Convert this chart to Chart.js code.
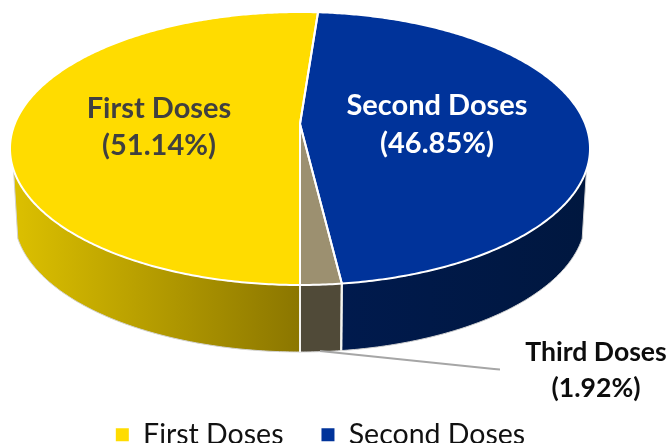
<!DOCTYPE html>
<html>
<head>
<meta charset="utf-8">
<style>
    html, body { margin: 0; padding: 0; background: #fff; overflow: hidden; }
    #wrap { width: 671px; height: 443px; }
</style>
<script src="https://cdn.jsdelivr.net/npm/chart.js@4/dist/chart.umd.min.js"></script>
</head>
<body>
<div id="wrap"><canvas id="dosesChart"></canvas></div>
<script>
const doseLabels = ['First Doses', 'Second Doses', 'Third Doses'];
const dosePercents = [51.14, 46.85, 1.92];
const topColors = ['#ffdc00', '#00339a', '#9c9070'];
const legendCount = 2;

// perspective of the tilted disc, fitted to the outline of the picture
const view = { cx: 300, apexY: 124, c: -0.1795, a: 132.1, b: 285.3, baseY: 193.4, shrink: 0.985 };
const wallFrom = 19 * Math.PI / 180;
const wallTo = 161 * Math.PI / 180;

const project = (angle, onBase) => {
    const d = 1 + view.c * Math.sin(angle);
    const s = onBase ? view.shrink : 1;
    return {
        x: view.cx + s * view.b * Math.cos(angle) / d,
        y: (onBase ? view.baseY : view.apexY) + s * view.a * Math.sin(angle) / d,
    };
};

const rimPath = (ctx, from, to, onBase, connect) => {
    const steps = Math.max(2, Math.ceil(Math.abs(to - from) / 0.01));
    for (let i = 0; i <= steps; i++) {
        const p = project(from + (to - from) * i / steps, onBase);
        if (i === 0 && !connect) ctx.moveTo(p.x, p.y);
        else ctx.lineTo(p.x, p.y);
    }
};

const wallFills = (ctx) => {
    const gold = ctx.createLinearGradient(14, 0, 300, 0);
    gold.addColorStop(0, '#dcc000');
    gold.addColorStop(1, '#8b7600');
    const navy = ctx.createLinearGradient(342, 0, 590, 0);
    navy.addColorStop(0, '#001a4d');
    navy.addColorStop(1, '#00173f');
    return [gold, navy, '#504a38'];
};

const drawWalls = (ctx, arcs) => {
    const fills = wallFills(ctx);
    arcs.forEach((arc, i) => {
        const from = Math.max(arc.startAngle, wallFrom);
        const to = Math.min(arc.endAngle, wallTo);
        let ranges = [[from, to]];
        // the slices run past 360deg, so look at the wrapped range as well
        if (arc.endAngle > Math.PI * 2) {
            ranges.push([Math.max(arc.startAngle - Math.PI * 2, wallFrom), Math.min(arc.endAngle - Math.PI * 2, wallTo)]);
        }
        ranges.forEach(([a, b]) => {
            if (b <= a) return;
            ctx.beginPath();
            rimPath(ctx, a, b, false, false);
            rimPath(ctx, b, a, true, true);
            ctx.closePath();
            ctx.fillStyle = fills[i];
            ctx.fill();
        });
    });

    // thin edge round the bottom of the wall
    ctx.beginPath();
    rimPath(ctx, wallFrom, wallTo, false, false);
    ctx.moveTo(project(wallFrom, false).x, project(wallFrom, false).y);
    rimPath(ctx, wallFrom, wallTo, true, true);
    rimPath(ctx, wallTo, wallTo, false, true);
    ctx.strokeStyle = '#d2d2d2';
    ctx.lineWidth = 1;
    ctx.stroke();

    // white seams where the slices meet on the wall
    arcs.forEach((arc) => {
        [arc.startAngle, arc.endAngle].forEach((angle) => {
            const a = ((angle % (Math.PI * 2)) + Math.PI * 2) % (Math.PI * 2);
            if (a < wallFrom || a > wallTo) return;
            const top = project(a, false);
            const base = project(a, true);
            ctx.beginPath();
            ctx.moveTo(top.x, top.y);
            ctx.lineTo(base.x, base.y);
            ctx.strokeStyle = '#f4f4f0';
            ctx.lineWidth = 2;
            ctx.stroke();
        });
    });
};

const drawTops = (ctx, arcs) => {
    arcs.forEach((arc, i) => {
        ctx.beginPath();
        ctx.moveTo(view.cx, view.apexY);
        rimPath(ctx, arc.startAngle, arc.endAngle, false, true);
        ctx.closePath();
        ctx.fillStyle = topColors[i];
        ctx.fill();
    });
    arcs.forEach((arc) => {
        ctx.beginPath();
        ctx.moveTo(view.cx, view.apexY);
        rimPath(ctx, arc.startAngle, arc.endAngle, false, true);
        ctx.closePath();
        ctx.strokeStyle = '#fff';
        ctx.lineWidth = 2;
        ctx.lineJoin = 'round';
        ctx.stroke();
    });
};

const drawLabels = (ctx) => {
    const spots = [
        { x: 159, y: 109, gap: 37, size: 29, color: '#404040' },
        { x: 437, y: 106, gap: 38, size: 29, color: '#ffffff' },
        { x: 596, y: 352, gap: 36, size: 26.6, color: '#0d0d0d' },
    ];
    ctx.textAlign = 'center';
    ctx.textBaseline = 'middle';
    doseLabels.forEach((label, i) => {
        const s = spots[i];
        ctx.font = `bold ${s.size}px Lato, "Open Sans", sans-serif`;
        ctx.fillStyle = s.color;
        ctx.fillText(label, s.x, s.y);
        ctx.fillText(`(${dosePercents[i].toFixed(2)}%)`, s.x, s.y + s.gap);
    });
};

const pie3d = {
    id: 'pie3d',
    beforeDatasetsDraw(chart) {
        const ctx = chart.ctx;
        const arcs = chart.getDatasetMeta(0).data.map((el) => el.getProps(['startAngle', 'endAngle'], true));
        ctx.save();
        drawWalls(ctx, arcs);
        drawTops(ctx, arcs);

        // leader line of the small slice
        ctx.beginPath();
        ctx.moveTo(320, 351);
        ctx.lineTo(494, 369);
        ctx.lineTo(500, 369.5);
        ctx.strokeStyle = '#a6a6a6';
        ctx.lineWidth = 2;
        ctx.stroke();

        drawLabels(ctx);
        ctx.restore();
        return false;
    },
};

new Chart(document.getElementById('dosesChart'), {
    type: 'pie',
    data: {
        labels: doseLabels,
        datasets: [{ data: dosePercents, backgroundColor: topColors, borderWidth: 0 }],
    },
    options: {
        responsive: true,
        maintainAspectRatio: false,
        animation: false,
        rotation: 180,
        layout: { padding: { right: 30, bottom: -16 } },
        plugins: {
            tooltip: { enabled: false },
            legend: {
                position: 'bottom',
                labels: {
                    boxWidth: 13,
                    boxHeight: 13,
                    padding: 38,
                    color: '#111',
                    font: { family: 'Lato, "Open Sans", sans-serif', size: 28.5 },
                    filter: (item) => item.index < legendCount,
                },
            },
        },
    },
    plugins: [pie3d],
});
</script>
</body>
</html>
